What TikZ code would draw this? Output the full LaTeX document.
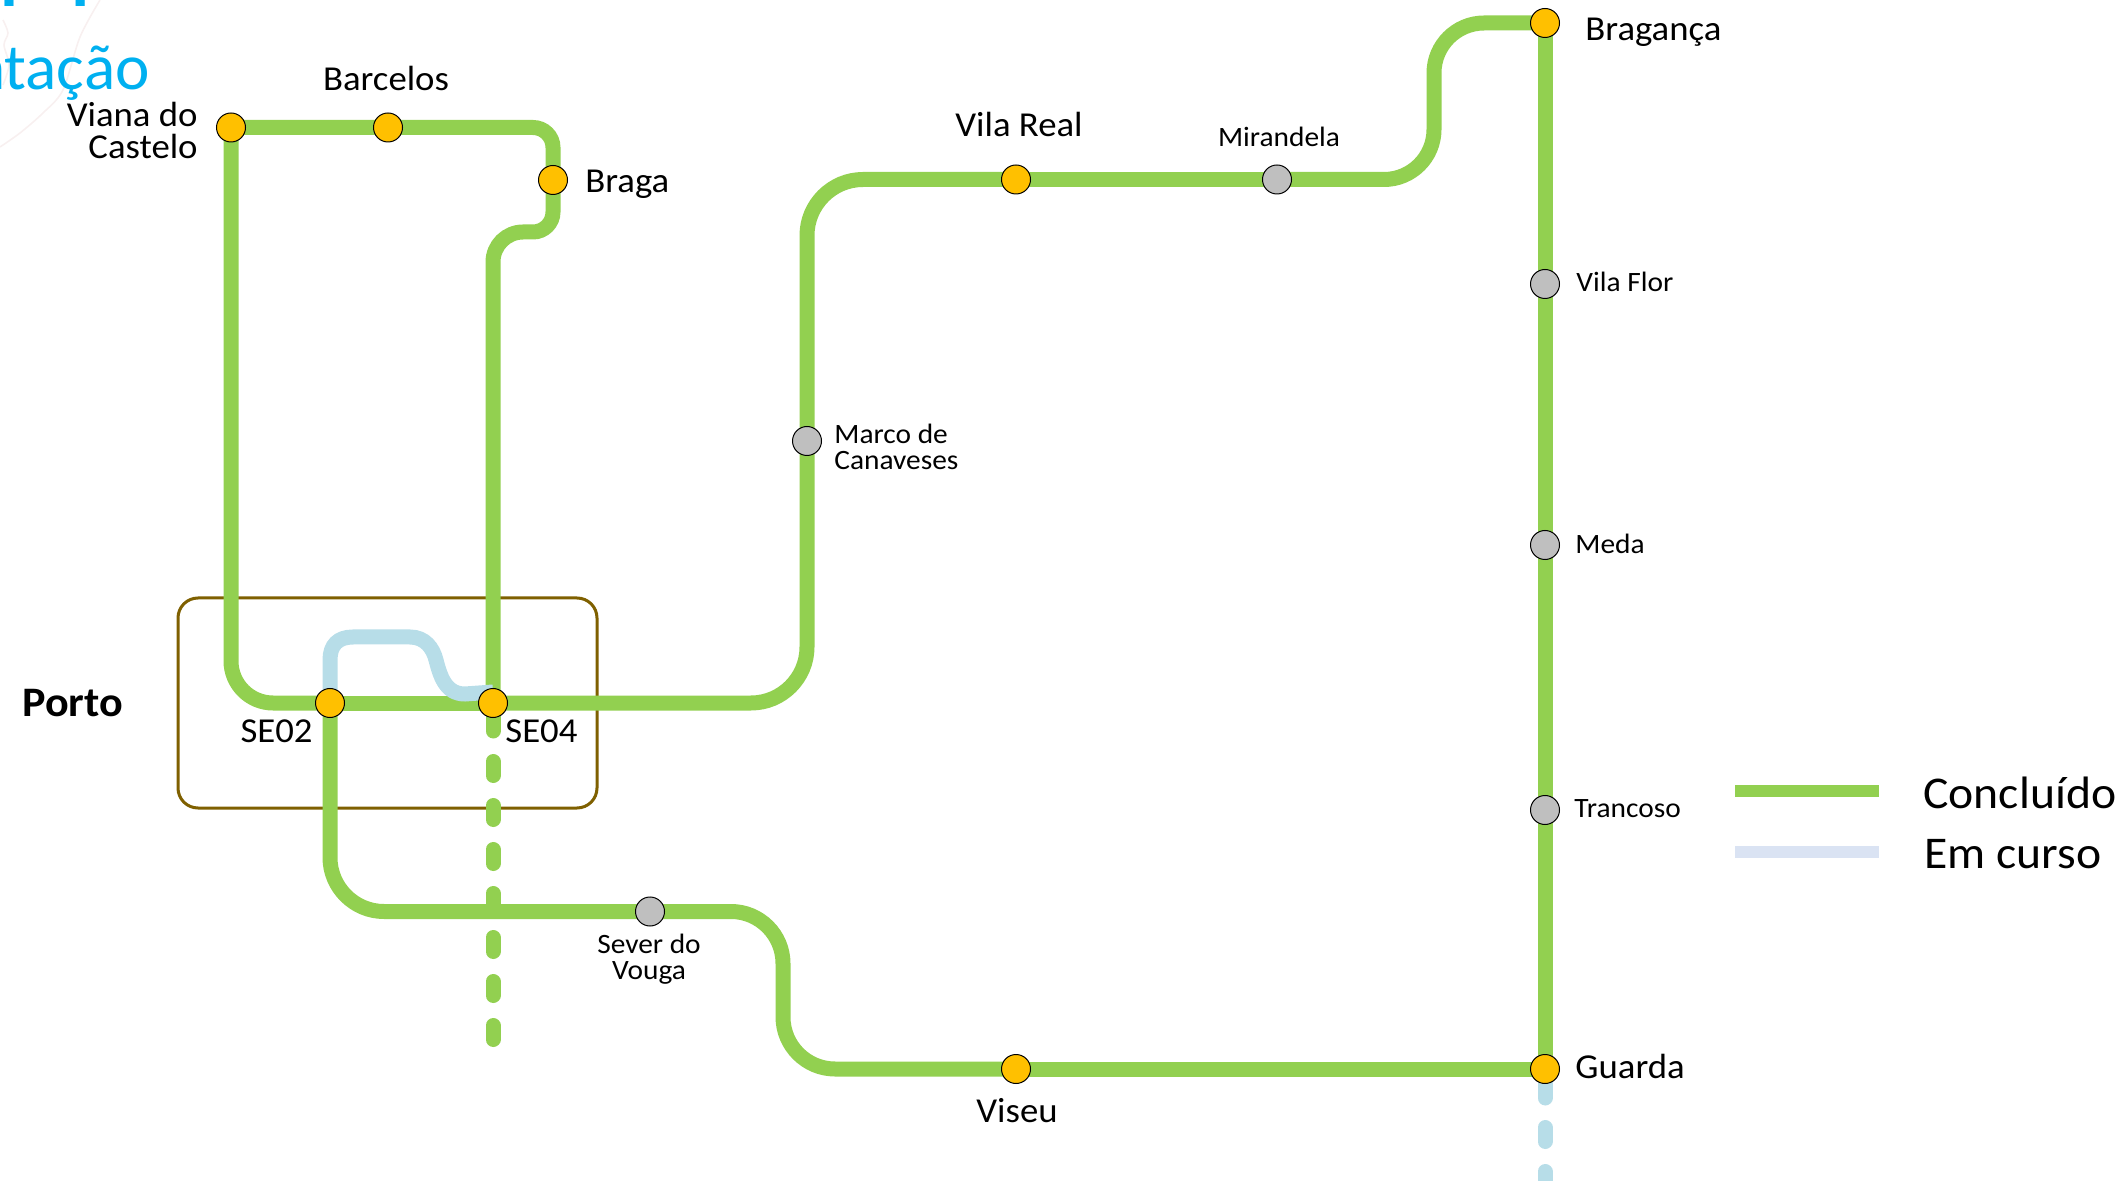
\documentclass[tikz,border=0pt]{standalone}
\usepackage{fontspec}
\setmainfont[FakeStretch=1.05]{Carlito}
\newfontfamily\headfont{Carlito}
\definecolor{lgreen}{HTML}{92D050}
\definecolor{lblue}{HTML}{B7DDE8}
\definecolor{lgblue}{HTML}{DAE3F3}
\definecolor{stnY}{HTML}{FFC000}
\definecolor{stnG}{HTML}{BFBFBF}
\definecolor{boxc}{HTML}{7F6000}
\definecolor{headc}{HTML}{00B0F0}
\definecolor{faintc}{HTML}{F8F0F0}
\tikzset{
  done/.style={draw=lgreen,line width=7.5pt},
  prog/.style={draw=lblue,line width=7.5pt},
  mainst/.style={circle,draw=black,line width=0.5pt,fill=stnY,minimum size=14.5pt,inner sep=0pt},
  minorst/.style={circle,draw=black,line width=0.5pt,fill=stnG,minimum size=14.5pt,inner sep=0pt},
  big/.style={font=\fontsize{17.5}{17.5}\selectfont,inner sep=0pt},
  small/.style={font=\fontsize{14}{14}\selectfont,inner sep=0pt},
  leg/.style={font=\fontsize{22.7}{22.7}\selectfont,inner sep=0pt},
  futdash/.style={line cap=round,dash pattern=on 7pt off 15pt}
}
\begin{document}
\begin{tikzpicture}[x=0.5pt,y=-0.5pt]
\clip (0,0) rectangle (2126,1181);
% faint background contours
\draw[faintc,line width=0.8pt] plot[smooth] coordinates {(100,0) (80,37) (63,90) (43,113) (20,133) (0,147)};
\draw[faintc,line width=0.8pt] plot[smooth] coordinates {(3,20) (8,33) (4,45) (9,65) (3,85)};
% heading fragments
\node[font=\headfont\fontsize{58}{58}\selectfont,text=headc,inner sep=0pt,anchor=base] (hm) at (45,7) {M};
\node[font=\headfont\fontsize{32.6}{33}\selectfont,text=headc,inner sep=0pt,anchor=base east] (hd) at (150,90) {ntação};
% stations
\coordinate (vi) at (231,127.5);
\coordinate (ba) at (388,127.5);
\coordinate (br) at (553,180);
\coordinate (s2) at (330,703);
\coordinate (s4) at (493,703);
\coordinate (ma) at (807,441);
\coordinate (vr) at (1016,179.5);
\coordinate (mi) at (1277,179.5);
\coordinate (bg) at (1545,23);
\coordinate (vf) at (1545,284);
\coordinate (me) at (1545,545);
\coordinate (tr) at (1545,810);
\coordinate (gu) at (1545,1069);
\coordinate (se) at (650,911.5);
\coordinate (ve) at (1016,1069);
% bend and free-end points
\coordinate (c1) at (231,703);
\coordinate (c2) at (553,127.5);
\coordinate (c3) at (553,232);
\coordinate (c4) at (493,232);
\coordinate (c5) at (807,703);
\coordinate (c6) at (807,179.5);
\coordinate (c7) at (1434,179.5);
\coordinate (c8) at (1434,23);
\coordinate (c9) at (330,911.5);
\coordinate (c10) at (783,911.5);
\coordinate (c11) at (783,1069);
\coordinate (d1) at (493,731);
\coordinate (d2) at (493,761.5);
\coordinate (d3) at (493,1045);
\coordinate (d4) at (1545,1098);
\coordinate (d5) at (1545,1127.5);
\coordinate (d6) at (1545,1215);
\coordinate (b0) at (330,660);
\coordinate (b1) at (353,637);
\coordinate (b2) at (410,637);
\coordinate (b3) at (436,660);
\coordinate (b4) at (465,694);
\coordinate (b5) at (493,692);
% Porto box
\node[draw=boxc,line width=1.5pt,rounded corners=10pt,minimum width=209.5pt,minimum height=105pt,inner sep=0pt] (porto) at (387.5,703) {};
% lines
\draw[done,rounded corners=21pt] (vi) -- (c1) -- (s2);
\draw[done] (s2) -- (s4);
\draw[done,rounded corners=10pt] (vi) -- (ba) -- (c2) -- (br);
\draw[done] (br) [rounded corners=10pt] -- (c3) [rounded corners=15pt] -- (c4) [sharp corners] -- (s4);
\draw[done,rounded corners=28pt] (s4) -- (c5) -- (ma) -- (c6) -- (vr);
\draw[done] (vr) -- (mi);
\draw[done,rounded corners=25pt] (mi) -- (c7) -- (c8) -- (bg);
\draw[done] (bg) -- (vf) -- (me) -- (tr) -- (gu);
\draw[done,rounded corners=27pt] (s2) -- (c9) -- (se);
\draw[done,rounded corners=26pt] (se) -- (c10) -- (c11) -- (ve);
\draw[done] (ve) -- (gu);
\draw[done,line cap=round] (s4) -- (d1);
\draw[done,futdash] (d2) -- (d3);
\draw[prog,line cap=round] (gu) -- (d4);
\draw[prog,futdash] (d5) -- (d6);
\draw[prog] (s2) -- (b0) .. controls (330,645) and (338,637) .. (b1) -- (b2)
  .. controls (425,637) and (433,648) .. (b3)
  .. controls (440,675) and (445,694) .. (b4) -- (b5);
% station dots
\node[mainst] (nvi) at (vi) {};
\node[mainst] (nba) at (ba) {};
\node[mainst] (nbr) at (br) {};
\node[mainst] (ns2) at (s2) {};
\node[mainst] (ns4) at (s4) {};
\node[mainst] (nvr) at (vr) {};
\node[mainst] (nbg) at (bg) {};
\node[mainst] (ngu) at (gu) {};
\node[mainst] (nve) at (ve) {};
\node[minorst] (nma) at (ma) {};
\node[minorst] (nmi) at (mi) {};
\node[minorst] (nvf) at (vf) {};
\node[minorst] (nme) at (me) {};
\node[minorst] (ntr) at (tr) {};
\node[minorst] (nse) at (se) {};
% labels
\node[big,anchor=base east] (lvi) at (198,127) {Viana do};
\node[big,anchor=base east] (lvi2) at (198,159) {Castelo};
\node[big,anchor=base] (lba) at (386,91) {Barcelos};
\node[big,anchor=base west] (lbr) at (585,193) {Braga};
\node[big,anchor=base] (lvr) at (1019,137) {Vila Real};
\node[small,anchor=base] (lmi) at (1279,147) {Mirandela};
\node[big,anchor=base west] (lbg) at (1585,41) {Bragança};
\node[small,anchor=base west] (lvf) at (1576,292) {Vila Flor};
\node[small,anchor=base west] (lme) at (1575,554) {Meda};
\node[small,anchor=base west] (ltr) at (1574,817) {Trancoso};
\node[big,anchor=base west] (lgu) at (1575,1078) {Guarda};
\node[big,anchor=base] (lve) at (1017,1122) {Viseu};
\node[small,anchor=base west] (lma) at (834,444) {Marco de};
\node[small,anchor=base west] (lma2) at (834,470) {Canaveses};
\node[small,anchor=base] (lse) at (649,953) {Sever do};
\node[small,anchor=base] (lse2) at (649,979) {Vouga};
\node[big,anchor=base east] (ls2) at (313,742) {SE02};
\node[big,anchor=base west] (ls4) at (505,742) {SE04};
\node[font=\fontsize{21}{21}\selectfont\bfseries,inner sep=0pt,anchor=base west] (lpo) at (22,717) {Porto};
% legend
\coordinate (l1) at (1735,791);
\coordinate (l2) at (1879,791);
\coordinate (l3) at (1735,852);
\coordinate (l4) at (1879,852);
\draw[draw=lgreen,line width=6.25pt] (l1) -- (l2);
\draw[draw=lgblue,line width=6.25pt] (l3) -- (l4);
\node[leg,anchor=base west] (lc) at (1923,808) {Concluído};
\node[leg,anchor=base west] (le) at (1924,868) {Em curso};
\end{tikzpicture}
\end{document}
